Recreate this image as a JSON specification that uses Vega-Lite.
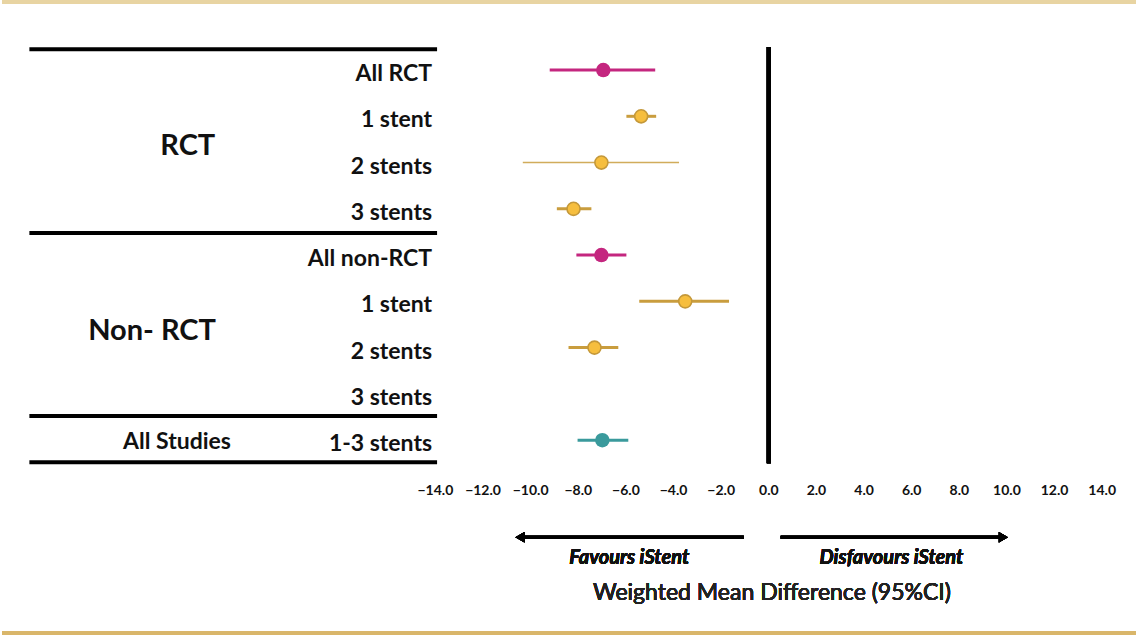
{
  "$schema": "https://vega.github.io/schema/vega-lite/v6.json",
  "width": 1138,
  "height": 640,
  "autosize": {"type": "fit", "contains": "padding"},
  "padding": 0,
  "background": "#ffffff",
  "config": {"view": {"stroke": null}, "font": "Lato"},
  "datasets": {
    "forest": [
      {"label": "All RCT", "row": 1, "kind": "All", "mean": -6.95, "lo": -9.2, "hi": -4.77},
      {"label": "1 stent", "row": 2, "kind": "Stent", "mean": -5.36, "lo": -5.98, "hi": -4.73},
      {"label": "2 stents", "row": 3, "kind": "Stent", "mean": -7.03, "lo": -10.33, "hi": -3.77},
      {"label": "3 stents", "row": 4, "kind": "Stent", "mean": -8.2, "lo": -8.9, "hi": -7.45},
      {"label": "All non-RCT", "row": 5, "kind": "All", "mean": -7.03, "lo": -8.08, "hi": -5.98},
      {"label": "1 stent", "row": 6, "kind": "Stent", "mean": -3.51, "lo": -5.44, "hi": -1.67},
      {"label": "2 stents", "row": 7, "kind": "Stent", "mean": -7.32, "lo": -8.41, "hi": -6.32},
      {"label": "3 stents", "row": 8, "kind": "Stent", "mean": null, "lo": null, "hi": null},
      {"label": "1-3 stents", "row": 9, "kind": "Studies", "mean": -6.99, "lo": -8.03, "hi": -5.9}
    ],
    "groups": [
      {"text": "RCT", "gx": -24.4, "row": 2.64, "big": true},
      {"text": "Non- RCT", "gx": -25.9, "row": 6.64, "big": true},
      {"text": "All Studies", "gx": -24.85, "row": 9.05, "big": false}
    ],
    "separators": [{"row": 0.55}, {"row": 4.52}, {"row": 8.48}, {"row": 9.48}],
    "ticks": [
      {"t": -14}, {"t": -12}, {"t": -10}, {"t": -8}, {"t": -6}, {"t": -4}, {"t": -2},
      {"t": 0}, {"t": 2}, {"t": 4}, {"t": 6}, {"t": 8}, {"t": 10}, {"t": 12}, {"t": 14}
    ]
  },
  "data": {"name": "forest"},
  "layer": [
    {
      "mark": {"type": "rule", "stroke": "#e8d4a2", "strokeWidth": 3},
      "encoding": {
        "x": {"datum": -32.2, "type": "quantitative", "scale": {"domain": [-32.2, 15.42], "nice": false, "zero": false}, "axis": null},
        "x2": {"datum": 15.42},
        "y": {"datum": -0.47, "type": "quantitative", "scale": {"domain": [-0.514, 13.32], "nice": false, "zero": false, "reverse": true}, "axis": null}
      }
    },
    {
      "mark": {"type": "rule", "stroke": "#d9b66a", "strokeWidth": 3},
      "encoding": {
        "x": {"datum": -32.2, "type": "quantitative"},
        "x2": {"datum": 15.42},
        "y": {"datum": 13.17, "type": "quantitative"}
      }
    },
    {
      "data": {"name": "separators"},
      "mark": {"type": "rule", "stroke": "#000000", "strokeWidth": 4},
      "encoding": {
        "x": {"datum": -31.05, "type": "quantitative"},
        "x2": {"datum": -13.93},
        "y": {"field": "row", "type": "quantitative"}
      }
    },
    {
      "mark": {"type": "rule", "stroke": "#000000", "strokeWidth": 4},
      "encoding": {
        "x": {"datum": 0, "type": "quantitative"},
        "y": {"datum": 0.5, "type": "quantitative"},
        "y2": {"datum": 9.5}
      }
    },
    {
      "transform": [{"filter": "datum.mean != null"}],
      "mark": {"type": "rule"},
      "encoding": {
        "x": {"field": "lo", "type": "quantitative"},
        "x2": {"field": "hi"},
        "y": {"field": "row", "type": "quantitative"},
        "color": {"field": "kind", "type": "nominal", "legend": null, "scale": {"domain": ["All", "Stent", "Studies"], "range": ["#c4267f", "#c99d3e", "#3a9a9c"]}},
        "strokeWidth": {"condition": {"test": "datum.hi - datum.lo > 5", "value": 1.6}, "value": 3},
        "opacity": {"condition": {"test": "datum.hi - datum.lo > 5", "value": 0.85}, "value": 1}
      }
    },
    {
      "transform": [{"filter": "datum.mean != null && datum.kind != 'Stent'"}],
      "mark": {"type": "point", "filled": true, "shape": "circle", "size": 210, "opacity": 1},
      "encoding": {
        "x": {"field": "mean", "type": "quantitative"},
        "y": {"field": "row", "type": "quantitative"},
        "color": {"field": "kind", "type": "nominal", "legend": null}
      }
    },
    {
      "transform": [{"filter": "datum.mean != null && datum.kind == 'Stent'"}],
      "mark": {"type": "point", "filled": true, "shape": "circle", "size": 170, "fill": "#f6be3e", "stroke": "#c4983a", "strokeWidth": 1.6, "opacity": 1},
      "encoding": {
        "x": {"field": "mean", "type": "quantitative"},
        "y": {"field": "row", "type": "quantitative"}
      }
    },
    {
      "mark": {"type": "text", "align": "right", "baseline": "middle", "dy": 4, "fontSize": 23, "fontWeight": "bold", "color": "#111111"},
      "encoding": {
        "x": {"datum": -14.14, "type": "quantitative"},
        "y": {"field": "row", "type": "quantitative"},
        "text": {"field": "label"}
      }
    },
    {
      "data": {"name": "groups"},
      "mark": {"type": "text", "align": "center", "baseline": "middle", "fontWeight": "bold", "color": "#111111"},
      "encoding": {
        "x": {"field": "gx", "type": "quantitative"},
        "y": {"field": "row", "type": "quantitative"},
        "text": {"field": "text"},
        "size": {"condition": {"test": "datum.big", "value": 29}, "value": 23}
      }
    },
    {
      "data": {"name": "ticks"},
      "mark": {"type": "text", "align": "center", "baseline": "middle", "fontSize": 14, "fontWeight": "bold", "color": "#111111"},
      "encoding": {
        "x": {"field": "t", "type": "quantitative"},
        "y": {"datum": 10.1, "type": "quantitative"},
        "text": {"field": "t", "type": "quantitative", "format": ".1f"}
      }
    },
    {
      "mark": {"type": "rule", "stroke": "#000000", "strokeWidth": 3},
      "encoding": {
        "x": {"datum": -1.05, "type": "quantitative"},
        "x2": {"datum": -10.3},
        "y": {"datum": 11.1, "type": "quantitative"}
      }
    },
    {
      "mark": {"type": "rule", "stroke": "#000000", "strokeWidth": 3},
      "encoding": {
        "x": {"datum": 0.5, "type": "quantitative"},
        "x2": {"datum": 9.7},
        "y": {"datum": 11.1, "type": "quantitative"}
      }
    },
    {
      "mark": {"type": "point", "shape": "triangle-left", "filled": true, "color": "#000000", "size": 110, "opacity": 1},
      "encoding": {
        "x": {"datum": -10.45, "type": "quantitative"},
        "y": {"datum": 11.1, "type": "quantitative"}
      }
    },
    {
      "mark": {"type": "point", "shape": "triangle-right", "filled": true, "color": "#000000", "size": 110, "opacity": 1},
      "encoding": {
        "x": {"datum": 9.85, "type": "quantitative"},
        "y": {"datum": 11.1, "type": "quantitative"}
      }
    },
    {
      "mark": {"type": "text", "align": "center", "baseline": "middle", "fontSize": 20, "fontWeight": "bold", "fontStyle": "italic", "color": "#111111"},
      "encoding": {
        "x": {"datum": -5.86, "type": "quantitative"},
        "y": {"datum": 11.55, "type": "quantitative"},
        "text": {"value": "Favours iStent"}
      }
    },
    {
      "mark": {"type": "text", "align": "center", "baseline": "middle", "fontSize": 20, "fontWeight": "bold", "fontStyle": "italic", "color": "#111111"},
      "encoding": {
        "x": {"datum": 5.15, "type": "quantitative"},
        "y": {"datum": 11.55, "type": "quantitative"},
        "text": {"value": "Disfavours iStent"}
      }
    },
    {
      "mark": {"type": "text", "align": "center", "baseline": "middle", "fontSize": 23, "fontWeight": "normal", "color": "#222222"},
      "encoding": {
        "x": {"datum": 0.13, "type": "quantitative"},
        "y": {"datum": 12.31, "type": "quantitative"},
        "text": {"value": "Weighted Mean Difference (95%CI)"}
      }
    }
  ]
}
